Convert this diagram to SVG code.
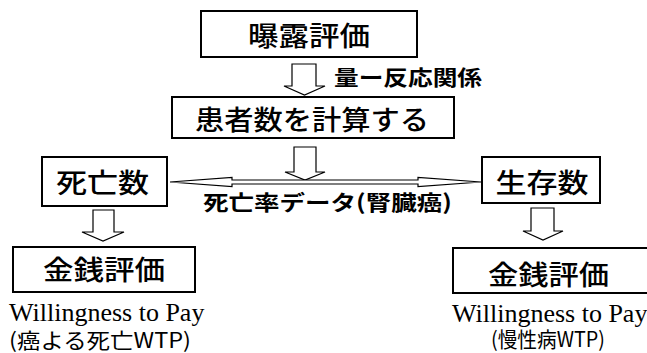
<svg xmlns="http://www.w3.org/2000/svg" width="647" height="353" viewBox="0 0 647 353">
<style>
.box{fill:#fff;stroke:#000;stroke-width:2}
.arr{fill:#fff;stroke:#000;stroke-width:1.2;stroke-linejoin:miter}
.jp{font-family:"Noto Sans CJK JP","Noto Sans",sans-serif;fill:#000}
.lbl{font-size:27px;font-weight:500}
.edge{font-size:21px;font-weight:bold}
.sub{font-size:21px;font-weight:normal}
.en{font-family:"Liberation Serif","Times New Roman",serif;font-size:26px;fill:#000}
</style>
<rect width="647" height="353" fill="#fff"/>
<g id="connectors">
<polygon class="arr" points="292,64 316,64 316,86 325,86 304.5,95 284,86 292,86"/>
<polygon class="arr" points="294,147 316,147 316,172 325,172 305,180 285,172 294,172"/>
<polygon class="arr" points="170,182 232,177.5 232,180 418,180 418,177.5 481,182 418,186.5 418,184 232,184 232,186.5"/>
<polygon class="arr" points="93,210 114,210 114,232 124,232 103,241 82,232 93,232"/>
<polygon class="arr" points="531,208 554,208 554,231 563,231 543,240 523,231 531,231"/>
<text class="jp edge" x="334" y="85" textLength="148" lengthAdjust="spacingAndGlyphs">量ー反応関係</text>
<text class="jp edge" x="203" y="210" textLength="249" lengthAdjust="spacingAndGlyphs">死亡率データ(腎臓癌)</text>
</g>
<g id="exposure">
<rect class="box" x="201" y="11" width="216" height="46"/>
<text class="jp lbl" x="309" y="46" text-anchor="middle" textLength="122" lengthAdjust="spacingAndGlyphs">曝露評価</text>
</g>
<g id="patients">
<rect class="box" x="172" y="97" width="282" height="41"/>
<text class="jp lbl" x="312" y="130" text-anchor="middle" textLength="234" lengthAdjust="spacingAndGlyphs">患者数を計算する</text>
</g>
<g id="deaths">
<rect class="box" x="42" y="157" width="125" height="49"/>
<text class="jp lbl" x="102.5" y="193" text-anchor="middle" textLength="93" lengthAdjust="spacingAndGlyphs">死亡数</text>
</g>
<g id="survivors">
<rect class="box" x="482" y="157" width="118" height="46"/>
<text class="jp lbl" x="542" y="193" text-anchor="middle" textLength="93" lengthAdjust="spacingAndGlyphs">生存数</text>
</g>
<g id="money-left">
<rect class="box" x="13" y="247" width="182" height="45"/>
<text class="jp lbl" x="104" y="280" text-anchor="middle" textLength="122" lengthAdjust="spacingAndGlyphs">金銭評価</text>
<text class="en" x="9" y="321">Willingness to Pay</text>
<text class="jp sub" x="9" y="348" textLength="182" lengthAdjust="spacingAndGlyphs">(癌よる死亡WTP)</text>
</g>
<g id="money-right">
<rect class="box" x="453" y="248" width="200" height="45"/>
<text class="jp lbl" x="548.5" y="285" text-anchor="middle" textLength="121" lengthAdjust="spacingAndGlyphs">金銭評価</text>
<text class="en" x="452" y="322">Willingness to Pay</text>
<text class="jp sub" x="491" y="347" textLength="114" lengthAdjust="spacingAndGlyphs">(慢性病WTP)</text>
</g>
</svg>
